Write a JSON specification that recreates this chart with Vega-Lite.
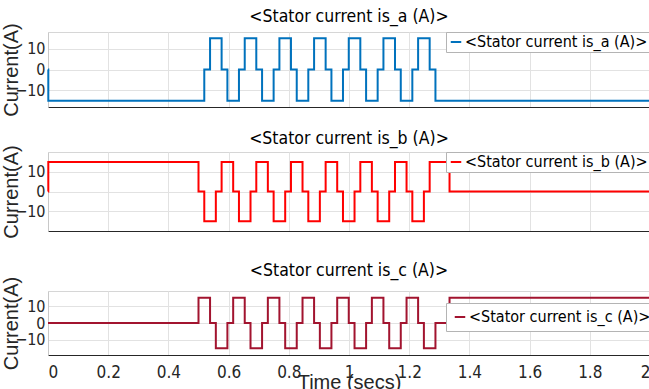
{
  "$schema": "https://vega.github.io/schema/vega-lite/v6.json",
  "background": "white",
  "padding": {"left": 0, "top": 7, "right": 0, "bottom": 0},
  "datasets": {
    "a": [
      {"t": 0, "v": 0}, {"t": 0.001, "v": -15},
      {"t": 0.5192, "v": 0}, {"t": 0.5384, "v": 15}, {"t": 0.5768, "v": 0}, {"t": 0.596, "v": -15},
      {"t": 0.6344, "v": 0}, {"t": 0.6536, "v": 15}, {"t": 0.692, "v": 0}, {"t": 0.7112, "v": -15},
      {"t": 0.7496, "v": 0}, {"t": 0.7688, "v": 15}, {"t": 0.8072, "v": 0}, {"t": 0.8264, "v": -15},
      {"t": 0.8648, "v": 0}, {"t": 0.884, "v": 15}, {"t": 0.9224, "v": 0}, {"t": 0.9416, "v": -15},
      {"t": 0.98, "v": 0}, {"t": 0.9992, "v": 15}, {"t": 1.0376, "v": 0}, {"t": 1.0568, "v": -15},
      {"t": 1.0952, "v": 0}, {"t": 1.1144, "v": 15}, {"t": 1.1528, "v": 0}, {"t": 1.172, "v": -15},
      {"t": 1.2104, "v": 0}, {"t": 1.2296, "v": 15}, {"t": 1.268, "v": 0}, {"t": 1.2872, "v": -15},
      {"t": 2.0, "v": -15}
    ],
    "b": [
      {"t": 0, "v": 0}, {"t": 0.001, "v": 15},
      {"t": 0.5, "v": 0}, {"t": 0.5192, "v": -15}, {"t": 0.5576, "v": 0}, {"t": 0.5768, "v": 15},
      {"t": 0.6152, "v": 0}, {"t": 0.6344, "v": -15}, {"t": 0.6728, "v": 0}, {"t": 0.692, "v": 15},
      {"t": 0.7304, "v": 0}, {"t": 0.7496, "v": -15}, {"t": 0.788, "v": 0}, {"t": 0.8072, "v": 15},
      {"t": 0.8456, "v": 0}, {"t": 0.8648, "v": -15}, {"t": 0.9032, "v": 0}, {"t": 0.9224, "v": 15},
      {"t": 0.9608, "v": 0}, {"t": 0.98, "v": -15}, {"t": 1.0184, "v": 0}, {"t": 1.0376, "v": 15},
      {"t": 1.076, "v": 0}, {"t": 1.0952, "v": -15}, {"t": 1.1336, "v": 0}, {"t": 1.1528, "v": 15},
      {"t": 1.1912, "v": 0}, {"t": 1.2104, "v": -15}, {"t": 1.2488, "v": 0}, {"t": 1.268, "v": 15},
      {"t": 1.334, "v": 0}, {"t": 2.0, "v": 0}
    ],
    "c": [
      {"t": 0, "v": 0},
      {"t": 0.5, "v": 15}, {"t": 0.5384, "v": 0}, {"t": 0.5576, "v": -15}, {"t": 0.596, "v": 0},
      {"t": 0.6152, "v": 15}, {"t": 0.6536, "v": 0}, {"t": 0.6728, "v": -15}, {"t": 0.7112, "v": 0},
      {"t": 0.7304, "v": 15}, {"t": 0.7688, "v": 0}, {"t": 0.788, "v": -15}, {"t": 0.8264, "v": 0},
      {"t": 0.8456, "v": 15}, {"t": 0.884, "v": 0}, {"t": 0.9032, "v": -15}, {"t": 0.9416, "v": 0},
      {"t": 0.9608, "v": 15}, {"t": 0.9992, "v": 0}, {"t": 1.0184, "v": -15}, {"t": 1.0568, "v": 0},
      {"t": 1.076, "v": 15}, {"t": 1.1144, "v": 0}, {"t": 1.1336, "v": -15}, {"t": 1.172, "v": 0},
      {"t": 1.1912, "v": 15}, {"t": 1.2296, "v": 0}, {"t": 1.2488, "v": -15}, {"t": 1.2872, "v": 0},
      {"t": 1.334, "v": 15}, {"t": 2.0, "v": 15}
    ]
  },
  "config": {
    "view": {"stroke": "#d6d6d6"},
    "title": {"font": "DejaVu Sans Condensed, Liberation Sans", "fontSize": 17.5, "fontWeight": "normal", "color": "#000000", "offset": -3},
    "axis": {
      "labelFont": "DejaVu Sans Condensed, Liberation Sans", "labelFontSize": 16, "labelColor": "#262626",
      "labelOverlap": false,
      "gridColor": "#e2e2e2", "gridWidth": 1,
      "titleFont": "Liberation Sans", "titleFontWeight": "normal", "titleFontSize": 20, "titleColor": "#262626",
      "ticks": false
    },
    "axisX": {"domainColor": "#262626", "domainWidth": 1, "labelFontSize": 17},
    "axisY": {"domainColor": "#c8c8c8", "labelPadding": 3, "titlePadding": 1, "minExtent": 26, "maxExtent": 26},
    "legend": {
      "title": null, "orient": "top-right", "offset": 0,
      "labelFont": "DejaVu Sans Condensed, Liberation Sans", "labelFontSize": 16, "labelColor": "#000000", "labelLimit": 400,
      "symbolType": "stroke", "symbolStrokeWidth": 2, "symbolSize": 110,
      "strokeColor": "#b4b4b4", "fillColor": "white", "padding": 2, "labelOffset": 1
    }
  },
  "resolve": {"scale": {"color": "independent"}, "legend": {"color": "independent"}},
  "spacing": 22,
  "vconcat": [
    {
      "resolve": {"scale": {"color": "independent"}, "legend": {"color": "independent"}},
      "spacing": 12,
      "vconcat": [
        {
          "title": "<Stator current is_a (A)>",
          "width": 602, "height": 75,
          "data": {"name": "a"},
          "mark": {"type": "line", "interpolate": "step-after", "strokeWidth": 2},
          "encoding": {
            "x": {"field": "t", "type": "quantitative", "scale": {"domain": [0, 2], "nice": false},
                  "axis": {"labels": false, "title": null, "values": [0, 0.2, 0.4, 0.6, 0.8, 1, 1.2, 1.4, 1.6, 1.8, 2]}},
            "y": {"field": "v", "type": "quantitative", "scale": {"domain": [-18, 18], "nice": false},
                  "axis": {"title": "Current(A)", "values": [-10, 0, 10]}},
            "color": {"datum": "<Stator current is_a (A)>", "type": "nominal", "scale": {"range": ["#0072BD"]}}
          }
        },
        {
          "title": "<Stator current is_b (A)>",
          "width": 602, "height": 79,
          "data": {"name": "b"},
          "mark": {"type": "line", "interpolate": "step-after", "strokeWidth": 2},
          "encoding": {
            "x": {"field": "t", "type": "quantitative", "scale": {"domain": [0, 2], "nice": false},
                  "axis": {"labels": false, "title": null, "values": [0, 0.2, 0.4, 0.6, 0.8, 1, 1.2, 1.4, 1.6, 1.8, 2]}},
            "y": {"field": "v", "type": "quantitative", "scale": {"domain": [-20, 20], "nice": false},
                  "axis": {"title": "Current(A)", "values": [-10, 0, 10]}},
            "color": {"datum": "<Stator current is_b (A)>", "type": "nominal", "scale": {"range": ["#FF0000"]}}
          }
        }
      ]
    },
    {
      "title": "<Stator current is_c (A)>",
      "width": 602, "height": 64,
      "data": {"name": "c"},
      "mark": {"type": "line", "interpolate": "step-after", "strokeWidth": 2},
      "encoding": {
        "x": {"field": "t", "type": "quantitative", "scale": {"domain": [0, 2], "nice": false},
              "axis": {"title": "Time (secs)", "format": "~g", "labelPadding": 9, "titlePadding": -8,
                       "values": [0, 0.2, 0.4, 0.6, 0.8, 1, 1.2, 1.4, 1.6, 1.8, 2]}},
        "y": {"field": "v", "type": "quantitative", "scale": {"domain": [-19, 19], "nice": false},
              "axis": {"title": "Current(A)", "values": [-10, 0, 10]}},
        "color": {"datum": "<Stator current is_c (A)>", "type": "nominal", "scale": {"range": ["#A2142F"]},
                  "legend": {"orient": "none", "legendX": 398, "legendY": 12, "padding": 6}}
      }
    }
  ]
}
